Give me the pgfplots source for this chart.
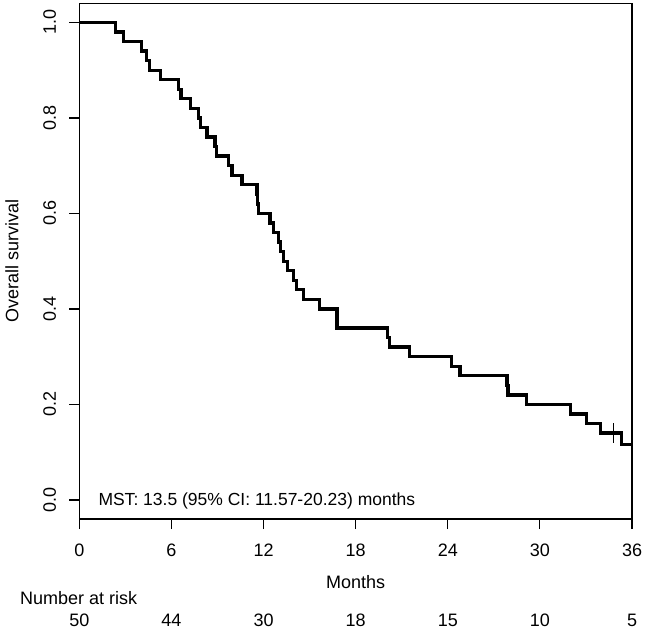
\documentclass[border=0pt]{standalone}
\usepackage{fontspec}
\setmainfont{Liberation Sans}
\usepackage{pgfplots}
\pgfplotsset{compat=1.18}

% Kaplan-Meier estimate, overall survival (n = 50)
\pgfplotstableread{
t      S
0      1.00
2.34   0.98
2.88   0.96
4.07   0.94
4.36   0.92
4.58   0.90
5.31   0.88
6.46   0.86
6.62   0.84
7.23   0.82
7.77   0.80
7.88   0.78
8.31   0.76
8.85   0.74
8.96   0.72
9.70   0.70
9.94   0.68
10.59  0.66
11.57  0.64
11.62  0.62
11.69  0.60
12.43  0.58
12.65  0.56
12.98  0.54
13.09  0.52
13.30  0.50
13.56  0.48
13.95  0.46
14.17  0.44
14.60  0.42
15.63  0.40
16.78  0.36
20.07  0.34
20.20  0.32
21.50  0.30
24.26  0.28
24.80  0.26
27.85  0.24
27.93  0.22
29.15  0.20
32.01  0.18
33.05  0.16
33.96  0.14
35.33  0.1167
36.00  0.1167
}\kmdata

\begin{document}
\fontsize{18}{21}\selectfont
\begin{tikzpicture}
\begin{axis}[
    name=ax,
    scale only axis,
    width=553pt, height=516pt,
    xmin=0, xmax=36,
    ymin=-0.04, ymax=1.04,
    axis line style={line width=1.2pt},
    every tick/.style={black, line width=1.2pt},
    tick align=outside, tick pos=left,
    major tick length=10pt,
    xtick={0,6,...,36},
    ytick={0,0.2,0.4,0.6,0.8,1},
    /pgf/number format/assume math mode=true,
    yticklabel style={rotate=90, anchor=base, yshift=13.5pt,
        /pgf/number format/.cd, fixed, fixed zerofill, precision=1},
    xticklabel style={anchor=center, yshift=-21pt},
    xlabel={Months},
    xlabel style={at={(axis description cs:0.5,0)}, anchor=center, yshift=-63pt},
    ylabel={Overall survival},
    ylabel style={at={(axis description cs:-0.1217,0.5)}, anchor=center},
    clip=false,
]
\addplot[const plot, black, line width=3.3pt] table[x=t, y=S] {\kmdata};
% censored observation
\addplot[only marks, mark=|, mark size=10pt, black, line width=1pt] coordinates {(34.79,0.14)};

\node[anchor=base west, inner sep=0pt, font=\fontsize{17.5}{21}\selectfont] at (axis cs:1.24,0) [yshift=-6pt]
    {MST: 13.5 (95\% CI: 11.57-20.23) months};

\node[anchor=west, inner sep=0pt] at (axis description cs:0,0) [xshift=-59.3pt, yshift=-79pt] {Number at risk};
\node at (axis cs:0,-0.04)  [yshift=-101pt] {50};
\node at (axis cs:6,-0.04)  [yshift=-101pt] {44};
\node at (axis cs:12,-0.04) [yshift=-101pt] {30};
\node at (axis cs:18,-0.04) [yshift=-101pt] {18};
\node at (axis cs:24,-0.04) [yshift=-101pt] {15};
\node at (axis cs:30,-0.04) [yshift=-101pt] {10};
\node at (axis cs:36,-0.04) [yshift=-101pt] {5};
\end{axis}
\pgfresetboundingbox
\useasboundingbox ([xshift=-79.3pt, yshift=-110.7pt]ax.south west)
    rectangle ([xshift=14pt, yshift=3.3pt]ax.north east);
\end{tikzpicture}
\end{document}
